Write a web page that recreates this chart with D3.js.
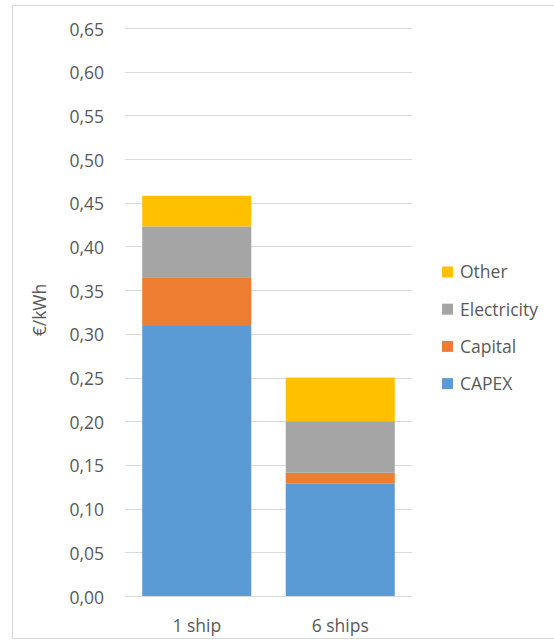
<!DOCTYPE html>
<html>
<head>
<meta charset="utf-8">
<script src="https://cdn.jsdelivr.net/npm/d3@7"></script>
<style>
  html, body { margin: 0; padding: 0; background: #fff; }
  svg { display: block; }
  text { font-family: "Open Sans", "Noto Sans", sans-serif; fill: #595959; }
</style>
</head>
<body>
<svg id="chart" width="554" height="644"></svg>
<script>
// Cost breakdown per scenario (€/kWh)
const categories = ["1 ship", "6 ships"];
const seriesNames = ["CAPEX", "Capital", "Electricity", "Other"];
const capex = [0.309, 0.129];
const capital = [0.055, 0.012];
const electricity = [0.059, 0.059];
const other = [0.035, 0.050];
const tickValues = [0, 0.05, 0.10, 0.15, 0.20, 0.25, 0.30, 0.35, 0.40, 0.45, 0.50, 0.55, 0.60, 0.65];
const colors = ["#5b9bd5", "#ed7d31", "#a5a5a5", "#ffc000"];

const rows = categories.map((c, i) => ({
  category: c,
  CAPEX: capex[i],
  Capital: capital[i],
  Electricity: electricity[i],
  Other: other[i]
}));

const FONT = 17.5;
const svg = d3.select("#chart");

// outer chart frame
svg.append("rect")
  .attr("x", 12.5).attr("y", 5.5)
  .attr("width", 560).attr("height", 633)
  .attr("fill", "#fff").attr("stroke", "#d9d9d9").attr("stroke-width", 1);

const plot = { left: 125, right: 412, top: 28, bottom: 596 };

const x = d3.scaleBand()
  .domain(categories)
  .range([plot.left, plot.right])
  .paddingInner(0.24)
  .paddingOuter(0.12);

const y = d3.scaleLinear()
  .domain([0, 0.65])
  .range([plot.bottom, plot.top]);

const fmt = v => d3.format(".2f")(v).replace(".", ",");

// gridlines
svg.append("g")
  .selectAll("line")
  .data(tickValues.filter(v => v > 0))
  .join("line")
  .attr("x1", plot.left).attr("x2", plot.right)
  .attr("y1", d => Math.round(y(d)) + 0.5)
  .attr("y2", d => Math.round(y(d)) + 0.5)
  .attr("stroke", "#d9d9d9").attr("stroke-width", 1);

// y axis labels
const yAxis = d3.axisLeft(y).tickValues(tickValues).tickFormat(fmt).tickSize(0).tickPadding(0);
const yg = svg.append("g").attr("transform", `translate(${plot.left - 21},0)`).call(yAxis);
yg.select(".domain").remove();
yg.selectAll("text").attr("font-size", FONT).attr("dy", "0.4em").style("fill", "#595959")
  .attr("font-family", "Open Sans, Noto Sans, sans-serif");

// stacked bars
const stack = d3.stack().keys(seriesNames);
const layers = stack(rows);

svg.append("g")
  .selectAll("g")
  .data(layers)
  .join("g")
  .attr("fill", (d, i) => colors[i])
  .selectAll("rect")
  .data(d => d)
  .join("rect")
  .attr("x", d => x(d.data.category))
  .attr("width", x.bandwidth())
  .attr("y", d => y(d[1]))
  .attr("height", d => y(d[0]) - y(d[1]));

// baseline
svg.append("line")
  .attr("x1", plot.left).attr("x2", plot.right)
  .attr("y1", plot.bottom + 0.5).attr("y2", plot.bottom + 0.5)
  .attr("stroke", "#d9d9d9").attr("stroke-width", 1);

// x axis labels
const xAxis = d3.axisBottom(x).tickSize(0).tickPadding(0);
const xg = svg.append("g").attr("transform", `translate(0,${plot.bottom})`).call(xAxis);
xg.select(".domain").remove();
xg.selectAll("text").attr("y", 36).attr("dy", 0).attr("font-size", FONT).style("fill", "#595959")
  .attr("font-family", "Open Sans, Noto Sans, sans-serif");

// y axis title
svg.append("text")
  .attr("transform", `translate(46,310) rotate(-90)`)
  .attr("text-anchor", "middle")
  .attr("font-size", FONT)
  .text("€/kWh");

// legend (top-down: Other, Electricity, Capital, CAPEX)
const legendItems = seriesNames.map((n, i) => ({ name: n, color: colors[i] })).reverse();
const legend = svg.append("g").attr("transform", "translate(442,272)");
const li = legend.selectAll("g").data(legendItems).join("g")
  .attr("transform", (d, i) => `translate(0,${i * 37.2})`);
li.append("rect").attr("x", 0).attr("y", -5.5).attr("width", 11).attr("height", 11)
  .attr("fill", d => d.color);
li.append("text").attr("x", 18).attr("y", 0).attr("dy", "0.36em")
  .attr("font-size", FONT).text(d => d.name);
</script>
</body>
</html>
